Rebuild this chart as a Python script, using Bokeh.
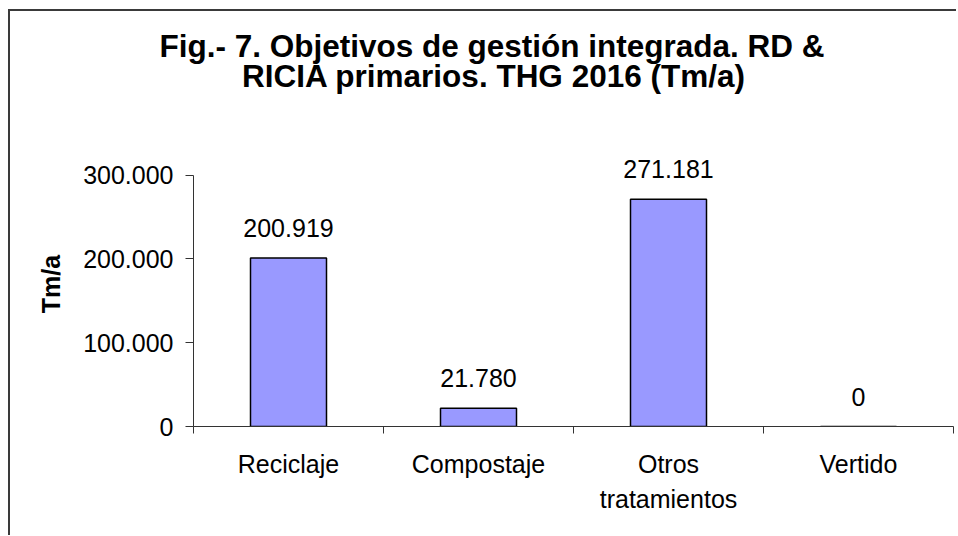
from bokeh.plotting import figure
from bokeh.models import ColumnDataSource, FixedTicker, Range1d, Title
from bokeh.core.properties import value
from bokeh.embed import file_html
from bokeh.resources import INLINE

categories = ["Reciclaje", "Compostaje", "Otros\ntratamientos", "Vertido"]
values = [200919, 21780, 271181, 0]
value_labels = ["200.919", "21.780", "271.181", "0"]
y_ticks = [0, 100000, 200000, 300000]
y_tick_labels = ["0", "100.000", "200.000", "300.000"]
title_lines = ["Fig.- 7. Objetivos de gestión integrada. RD &",
               "RICIA primarios. THG 2016 (Tm/a)"]
y_label = "Tm/a"

FONT = "Liberation Sans"
n = len(categories)
xs = [i + 0.5 for i in range(n)]
src = ColumnDataSource(dict(x=xs, top=values, lab=value_labels))

p = figure(width=948, height=526, title=None,
           x_range=Range1d(0, n), y_range=Range1d(0, 340000),
           output_backend="svg", toolbar_location=None,
           min_border_left=183, min_border_right=5,
           min_border_top=130, min_border_bottom=111)
p.styles = {"border-left": "2px solid #3a3a3a", "border-top": "2px solid #3a3a3a",
            "margin-top": "9px", "margin-left": "8px"}
p.outline_line_color = None
p.xgrid.visible = False
p.ygrid.visible = False

p.vbar(x="x", top="top", bottom=0, width=0.4, source=src,
       fill_color="#9999FF", line_color="black", line_width=1.5)

p.text(x="x", y="top", text="lab", source=src, text_align="center",
       text_baseline="alphabetic", y_offset=-30,
       text_font=value(FONT), text_font_size="25px", text_color="black")

# title: spacer closest to the frame, then line 2, then line 1
p.add_layout(Title(text=" ", standoff=35, text_font=FONT, text_font_size="10px",
                   text_color="white"), "above")
p.add_layout(Title(text=title_lines[1], align="left", offset=48.5, standoff=0,
                   text_font=FONT, text_font_size="31.5px", text_font_style="bold",
                   text_color="black"), "above")
p.add_layout(Title(text=title_lines[0], align="left", offset=-34, standoff=-17,
                   text_font=FONT, text_font_size="31.5px", text_font_style="bold",
                   text_color="black"), "above")

# x axis
xa = p.xaxis[0]
xa.ticker = FixedTicker(ticks=xs, minor_ticks=list(range(n + 1)))
xa.major_label_overrides = {x: c for x, c in zip(xs, categories)}
xa.major_tick_out = 0
xa.major_tick_in = 0
xa.minor_tick_out = 7
xa.minor_tick_in = 0
xa.minor_tick_line_color = "#333333"
xa.axis_line_color = "#333333"
xa.major_label_text_font = FONT
xa.major_label_text_font_size = "25px"
xa.major_label_text_color = "black"
xa.major_label_text_line_height = 1.25
xa.major_label_standoff = 16

# y axis
ya = p.yaxis[0]
ya.bounds = (y_ticks[0], y_ticks[-1])
ya.ticker = FixedTicker(ticks=y_ticks)
ya.major_label_overrides = {t: l for t, l in zip(y_ticks, y_tick_labels)}
ya.minor_tick_line_color = None
ya.major_tick_out = 8
ya.major_tick_in = 0
ya.major_tick_line_color = "#333333"
ya.axis_line_color = "#333333"
ya.major_label_text_font = FONT
ya.major_label_text_font_size = "25px"
ya.major_label_text_color = "black"
ya.major_label_standoff = 12
ya.axis_label = y_label
ya.axis_label_text_font = FONT
ya.axis_label_text_font_size = "25px"
ya.axis_label_text_font_style = "bold"
ya.axis_label_text_color = "black"
ya.axis_label_standoff = 15

open("out.html", "w").write(file_html(p, INLINE))
